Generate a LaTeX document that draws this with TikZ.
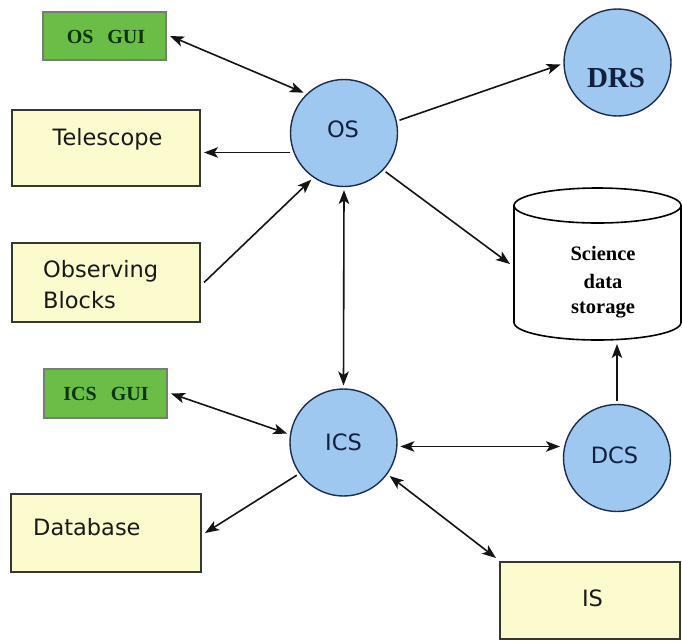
\documentclass[tikz,border=0pt]{standalone}
\usepackage{fontspec}
\setmainfont{Liberation Serif}
\newfontfamily\labelsans{DejaVu Sans}
\usetikzlibrary{arrows.meta}

\definecolor{unitblue}{RGB}{158,200,240}
\definecolor{unitline}{RGB}{30,45,75}
\definecolor{unittext}{RGB}{18,32,62}
\definecolor{paleyellow}{RGB}{252,251,206}
\definecolor{boxline}{RGB}{55,55,50}
\definecolor{guigreen}{RGB}{106,190,72}
\definecolor{guiline}{RGB}{118,128,112}
\definecolor{guitext}{RGB}{12,52,18}
\definecolor{arrowcol}{RGB}{20,20,20}

\begin{document}
\begin{tikzpicture}[x=1pt,y=-1pt,
  yellowbox/.style={draw=boxline, fill=paleyellow, line width=1.4pt,
    inner sep=0pt, outer sep=4pt},
  guibox/.style={draw=guiline, fill=guigreen, line width=2pt,
    minimum width=123pt, minimum height=48pt, inner sep=0pt, outer sep=4pt},
  unit/.style={circle, draw=unitline, fill=unitblue, line width=1.4pt,
    minimum size=107pt, inner sep=0pt, outer sep=3.5pt},
  sanslabel/.style={font=\labelsans\fontsize{22.5}{27}\selectfont,
    text=black!90, inner sep=0pt},
  unitlabel/.style={font=\labelsans\fontsize{22.5}{27}\selectfont,
    text=unittext, inner sep=0pt, anchor=base},
  guilabel/.style={font=\bfseries\fontsize{20}{24}\selectfont,
    text=guitext, inner sep=0pt, anchor=base},
  storelabel/.style={font=\bfseries\fontsize{20.5}{24}\selectfont,
    text=black, inner sep=0pt, anchor=base},
  arr/.style={-{Stealth[length=14pt,width=10.5pt,inset=3.5pt]},
    line width=1.6pt, draw=arrowcol},
  biarr/.style={{Stealth[length=14pt,width=10.5pt,inset=3.5pt]}-{Stealth[length=14pt,width=10.5pt,inset=3.5pt]},
    line width=1.6pt, draw=arrowcol}]

\useasboundingbox (0,0) rectangle (682,641);
\fill[white] (0,0) rectangle (682,641);

% ---- left column: GUIs and data sources ----
\node[guibox] (osgui) at (104.5,36) {};
\node[guilabel] (osgui-t) at (106,43) {OS\hspace{0.7em}GUI};

\node[yellowbox, minimum width=188pt, minimum height=76pt] (tele) at (106,148) {};
\node[sanslabel, anchor=base] (tele-t) at (107.5,145) {Telescope};

\node[yellowbox, minimum width=188pt, minimum height=79pt] (obs) at (106,282.5) {};
\node[sanslabel, anchor=base west] (obs-t1) at (43,277) {Observing};
\node[sanslabel, anchor=base west] (obs-t2) at (43,308) {Blocks};

\node[guibox, minimum height=49pt] (icsgui) at (105.5,393.5) {};
\node[guilabel] (icsgui-t) at (106,400) {ICS\hspace{0.7em}GUI};

\node[yellowbox, minimum width=190pt, minimum height=78pt] (db) at (106,533) {};
\node[sanslabel, anchor=base west] (db-t) at (33,535) {Database};

\node[yellowbox, minimum width=180pt, minimum height=77pt] (is) at (590,600.5) {};
\node[sanslabel, anchor=base] (is-t) at (592.5,606) {IS};

% ---- software units ----
\node[unit] (os) at (344,133) {};
\node[unitlabel] (os-t) at (343,137) {OS};

\node[unit] (drs) at (617.5,62.5) {};
\node[storelabel, font=\bfseries\fontsize{29}{34}\selectfont, text=unittext]
  (drs-t) at (616,87) {DRS};

\node[unit] (ics) at (343.5,442.5) {};
\node[unitlabel] (ics-t) at (343.5,450) {ICS};

\node[unit] (dcs) at (617,458) {};
\node[unitlabel] (dcs-t) at (614.5,463) {DCS};

% ---- science data storage (cylinder) ----
\node[minimum width=167pt, minimum height=152pt, inner sep=0pt, outer sep=4pt]
  (store) at (597.5,264) {};
\draw[line width=1.6pt, fill=white]
  (514,205.5) -- (514,322.5)
  arc[start angle=180, end angle=360, x radius=83.5pt, y radius=17.5pt]
  -- (681,205.5);
\draw[line width=1.6pt, fill=white] (597.5,205.5) ellipse [x radius=83.5pt, y radius=17.5pt];
\node[storelabel] (store-t1) at (603,260) {Science};
\node[storelabel] (store-t2) at (603,288) {data};
\node[storelabel] (store-t3) at (603,313) {storage};

% ---- connectors ----
\draw[biarr] (osgui.east) -- (os.135);
\draw[arr] (os.200) -- (os.200 -| tele.east);
\draw[arr] (obs.east) -- (os.235);
\draw[biarr] (os.south) -- (ics.north);
\draw[arr] (os.13) -- (drs.182);
\draw[arr] (os.-43) -- (store.west);
\draw[arr] (dcs.north) -- (dcs.north |- store.south);
\draw[biarr] (icsgui.east) -- (ics.171);
\draw[biarr] (ics.-4) -- (ics.-4 -| dcs.west);
\draw[arr] (ics.215) -- (db.east);
\draw[biarr] (ics.-36) -- (is.north west);
\end{tikzpicture}
\end{document}
